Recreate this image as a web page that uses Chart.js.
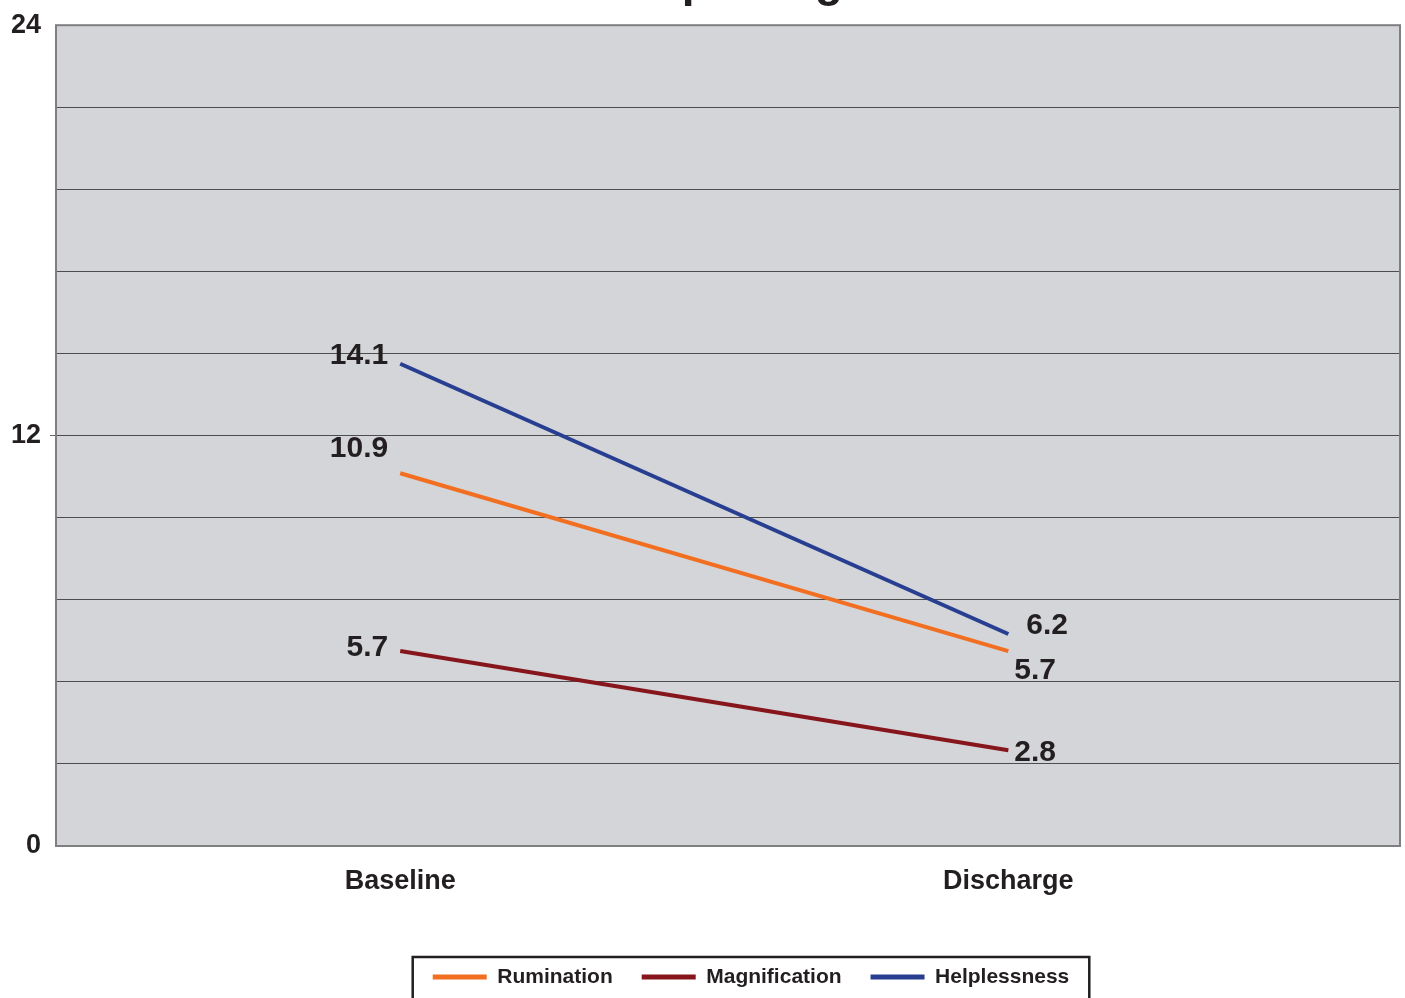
<!DOCTYPE html>
<html>
<head>
<meta charset="utf-8">
<script src="https://cdn.jsdelivr.net/npm/chart.js@4.4.1/dist/chart.umd.min.js"></script>
<style>
html,body{margin:0;padding:0;background:#ffffff;}
#wrap{width:1405px;height:998px;overflow:hidden;}
canvas{display:block;}
</style>
</head>
<body>
<div id="wrap"><canvas id="c" width="1405" height="998"></canvas></div>
<script>
// ---- data ----
const categories = ['Baseline', 'Discharge'];
const seriesNames = ['Rumination', 'Magnification', 'Helplessness'];
const rumination = [10.9, 5.7];
const magnification = [5.7, 2.8];
const helplessness = [14.1, 6.2];
const yTickLabels = [0, 12, 24];
const titleText = 'Catastrophizing';

// ---- style ----
const FONT = "'Liberation Sans', Arial, Helvetica, sans-serif";
const TEXT = '#231f20';
const colors = ['#f26f21', '#86161c', '#283e91'];
Chart.defaults.font.family = FONT;
Chart.defaults.color = TEXT;

const seriesValues = [rumination, magnification, helplessness];
const datasets = seriesNames.map((name, s) => ({
  label: name,
  data: seriesValues[s].map((v, i) => ({x: i, y: v})),
  borderColor: colors[s],
  backgroundColor: colors[s],
  borderWidth: 4,
  pointRadius: 0,
  pointHoverRadius: 0,
  tension: 0
}));

// label placement per series (style only): [dx, dy] for first and last point
const labelShift = {
  Rumination:    [[-12, -24], [6, 20]],
  Magnification: [[-12, -3],  [6, 2]],
  Helplessness:  [[-12, -8],  [18, -8]]
};

const plotPlugin = {
  id: 'plotDeco',
  beforeDraw(chart) {
    const {ctx, chartArea: a} = chart;
    ctx.save();
    ctx.fillStyle = '#d4d5d8';
    ctx.fillRect(a.left, a.top, a.right - a.left, a.bottom - a.top);
    ctx.restore();
  },
  beforeDatasetsDraw(chart) {
    const {ctx, chartArea: a} = chart;
    ctx.save();
    ctx.strokeStyle = '#7f7f7f';
    ctx.lineWidth = 2;
    ctx.strokeRect(a.left, a.top, a.right - a.left, a.bottom - a.top);
    ctx.restore();
  },
  afterDatasetsDraw(chart) {
    const {ctx} = chart;
    ctx.save();
    ctx.font = 'bold 30px ' + FONT;
    ctx.fillStyle = TEXT;
    ctx.textBaseline = 'middle';
    chart.data.datasets.forEach((ds, di) => {
      const meta = chart.getDatasetMeta(di);
      meta.data.forEach((pt, i) => {
        const txt = ds.data[i].y.toFixed(1);
        const [dx, dy] = labelShift[ds.label][i];
        ctx.textAlign = i === 0 ? 'right' : 'left';
        ctx.fillText(txt, pt.x + dx, pt.y + dy);
      });
    });
    ctx.restore();
  },
  afterLayout(chart) {
    const lg = chart.legend;
    if (!lg) return;
    const dx = 51;
    lg.left += dx; lg.right += dx;
    const pad = lg.options.labels.padding;
    const fs = lg.options.labels.font.size;
    const desiredTop = 977 - fs / 2 - pad;
    const dy = desiredTop - lg.top;
    lg.top += dy; lg.bottom += dy;
  },
  afterDraw(chart) {
    const {ctx} = chart;
    const lg = chart.legend;
    if (lg && lg.lineWidths) {
      const pad = lg.options.labels.padding;
      const cw = lg.lineWidths[0] - pad;
      const cx = (lg.left + lg.right) / 2;
      ctx.save();
      ctx.strokeStyle = TEXT;
      ctx.lineWidth = 2.5;
      ctx.strokeRect(cx - cw / 2 - 20, 957, cw + 40, 80);
      ctx.restore();
    }
    // title (cropped at the top edge in the reference)
    ctx.save();
    ctx.font = 'bold 46px ' + FONT;
    ctx.fillStyle = TEXT;
    ctx.textAlign = 'center';
    ctx.textBaseline = 'alphabetic';
    ctx.fillText(titleText, 669, -4);
    ctx.restore();
  }
};

new Chart(document.getElementById('c'), {
  type: 'line',
  data: {datasets},
  plugins: [plotPlugin],
  options: {
    responsive: false,
    animation: false,
    devicePixelRatio: 1,
    layout: {padding: {top: 21, right: 5, left: 0, bottom: 0}},
    plugins: {
      title: {display: false},
      tooltip: {enabled: false},
      legend: {
        display: true,
        position: 'bottom',
        labels: {
          boxWidth: 54,
          boxHeight: 5,
          padding: 29,
          color: TEXT,
          font: {size: 21, weight: 'bold', family: FONT},
          generateLabels(chart) {
            const items = Chart.defaults.plugins.legend.labels.generateLabels(chart);
            return items.map(it => Object.assign(it, {lineWidth: 0, fillStyle: it.strokeStyle}));
          }
        }
      }
    },
    scales: {
      x: {
        type: 'linear',
        min: -0.566,
        max: 1.644,
        grid: {display: false},
        border: {display: false},
        afterBuildTicks(scale) {
          scale.ticks = categories.map((c, i) => ({value: i}));
        },
        afterFit(scale) {
          const lh = scale.chart.legend ? scale.chart.legend.height : 0;
          scale.height = 998 - 846 - lh;
        },
        ticks: {
          autoSkip: false,
          maxRotation: 0,
          padding: 11,
          color: TEXT,
          font: {size: 27, weight: 'bold'},
          callback: (v) => categories[Math.round(v)] ?? ''
        }
      },
      y: {
        min: 0,
        max: 24,
        border: {display: false},
        grid: {
          color: '#4d4d4d',
          lineWidth: 1,
          drawTicks: true,
          tickLength: 6,
          tickColor: (ctx) => (ctx.tick && Math.abs(ctx.tick.value - 12) < 1e-6) ? '#666' : 'rgba(0,0,0,0)'
        },
        afterFit(scale) { scale.width = 56; },
        ticks: {
          stepSize: 2.4,
          autoSkip: false,
          padding: 9,
          color: TEXT,
          font: {size: 27, weight: 'bold'},
          callback: (v) => yTickLabels.some(t => Math.abs(t - v) < 1e-6) ? String(Math.round(v)) : ''
        }
      }
    }
  }
});
</script>
</body>
</html>
